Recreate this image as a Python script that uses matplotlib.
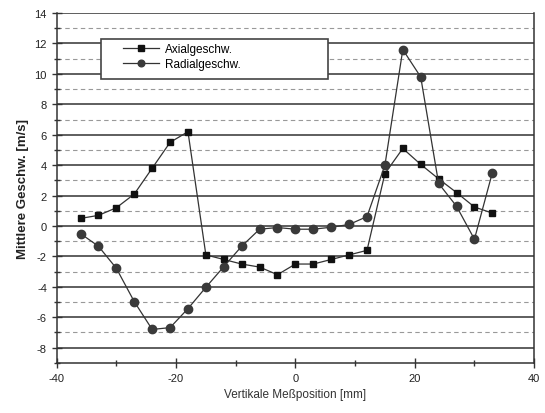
import matplotlib
matplotlib.use("Agg")
import matplotlib.pyplot as plt
from matplotlib.ticker import MultipleLocator
from matplotlib.patches import Rectangle

positions = [-36, -33, -30, -27, -24, -21, -18, -15, -12, -9, -6, -3,
             0, 3, 6, 9, 12, 15, 18, 21, 24, 27, 30, 33]
axial = [0.5, 0.7, 1.2, 2.1, 3.8, 5.5, 6.2, -1.9, -2.2, -2.5, -2.7, -3.2,
         -2.5, -2.5, -2.2, -1.9, -1.6, 3.45, 5.1, 4.05, 3.1, 2.2, 1.25, 0.85]
radial = [-0.5, -1.33, -2.78, -4.97, -6.8, -6.68, -5.43, -4.03, -2.67, -1.33, -0.21, -0.1,
          -0.21, -0.21, -0.08, 0.1, 0.62, 4.0, 11.6, 9.8, 2.8, 1.3, -0.87, 3.5]
labels = ["Axialgeschw.", "Radialgeschw."]

plt.rcParams['font.family'] = ['Liberation Sans', 'DejaVu Sans']
plt.rcParams['axes.unicode_minus'] = False

fig = plt.figure(figsize=(5.45, 4.14), dpi=100)
ax = fig.add_axes([0.104, 0.121, 0.876, 0.845])

ax.plot(positions, axial, color='#333333', lw=0.9, marker='s', ms=5,
        mfc='#111111', mec='#111111', label=labels[0], zorder=3)
ax.plot(positions, radial, color='#333333', lw=0.9, marker='o', ms=6,
        mfc='#3a3a3a', mec='#3a3a3a', label=labels[1], zorder=3)

ax.set_xlim(-40, 40)
ax.set_ylim(-9, 14)
ax.xaxis.set_major_locator(MultipleLocator(20))
ax.xaxis.set_minor_locator(MultipleLocator(10))
ax.yaxis.set_major_locator(MultipleLocator(2))
ax.yaxis.set_minor_locator(MultipleLocator(1))

ax.grid(True, which='major', axis='y', color='#333333', lw=1.1, ls='-')
ax.grid(True, which='minor', axis='y', color='#999999', lw=0.8, ls=(0, (4, 3)))
ax.set_axisbelow(True)

for s in ax.spines.values():
    s.set_color('#333333')
    s.set_linewidth(1.1)
ax.spines['top'].set_visible(False)

ax.tick_params(axis='both', which='major', direction='inout', length=7, width=1.0,
               colors='#333333', labelsize=8, labelcolor='#222222')
ax.tick_params(axis='both', which='minor', direction='inout', length=5, width=1.0,
               colors='#333333')

ax.set_xlabel("Vertikale Meßposition [mm]", fontsize=8.5, color='#333333')
ax.set_ylabel("Mittlere Geschw. [m/s]", fontsize=9.5, fontweight='bold', color='#222222')

box = Rectangle((0.093, 0.811), 0.476, 0.115, transform=ax.transAxes,
                facecolor='white', edgecolor='#444444', lw=1.2, zorder=4)
ax.add_patch(box)
leg = ax.legend(loc='upper left', bbox_to_anchor=(0.135, 0.922),
                frameon=False, fontsize=8.5, handlelength=3.0, handletextpad=0.5,
                borderpad=0.2, labelspacing=0.3, borderaxespad=0, markerscale=0.8)
leg.set_zorder(5)

fig.savefig("out.png", dpi=100)
